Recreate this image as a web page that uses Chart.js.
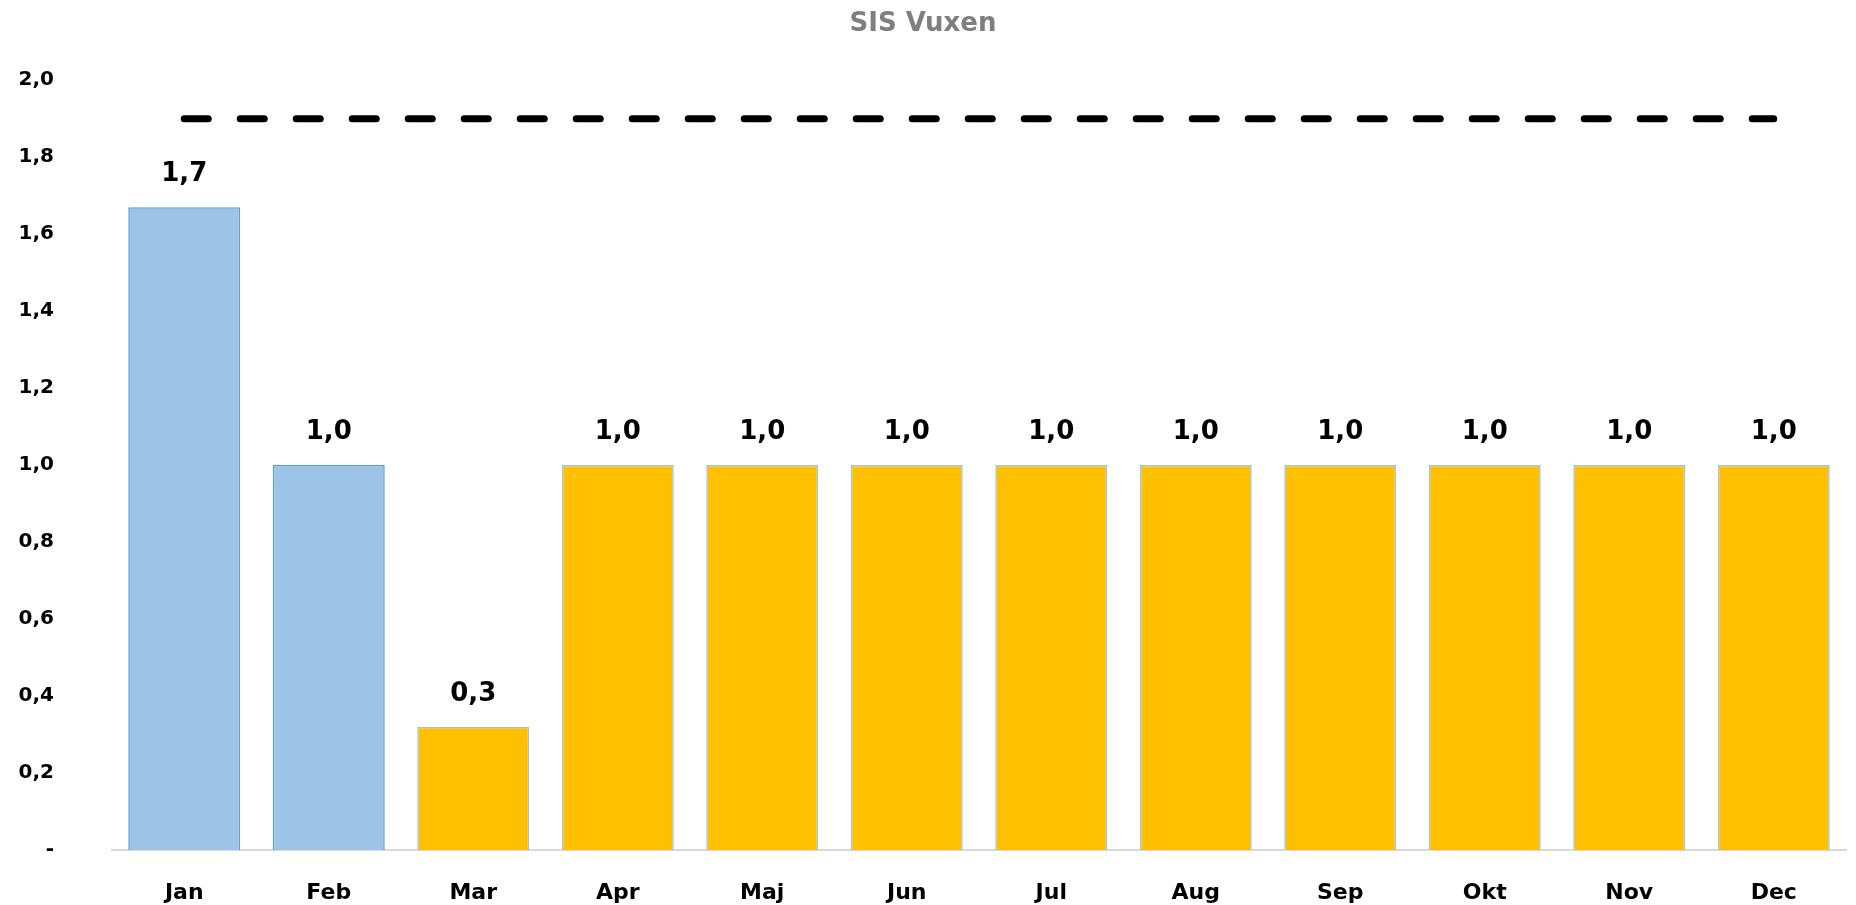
<!DOCTYPE html>
<html>
<head>
<meta charset="utf-8">
<script src="https://cdn.jsdelivr.net/npm/chart.js@4"></script>
<style>
  html, body { margin: 0; padding: 0; background: #fff; overflow: hidden; }
  canvas { display: block; }
</style>
</head>
<body>
<canvas id="myChart" width="1856" height="905"></canvas>
<script>
// data
const months = ["Jan", "Feb", "Mar", "Apr", "Maj", "Jun", "Jul", "Aug", "Sep", "Okt", "Nov", "Dec"];
const values = [1.67, 1.0, 0.32, 1.0, 1.0, 1.0, 1.0, 1.0, 1.0, 1.0, 1.0, 1.0];
const target = [1.9, 1.9, 1.9, 1.9, 1.9, 1.9, 1.9, 1.9, 1.9, 1.9, 1.9, 1.9];
const actualCount = 2; // first months are blue (utfall), rest yellow

const FONT = "'DejaVu Sans', sans-serif";
const fmt = (v) => (v === 0 ? "-" : v.toFixed(1).replace(".", ","));

// simple inline data label plugin
const barLabels = {
  id: "barLabels",
  afterDatasetsDraw(chart) {
    const ctx = chart.ctx;
    const meta = chart.getDatasetMeta(1);
    ctx.save();
    ctx.font = "bold 26px " + FONT;
    ctx.fillStyle = "#000";
    ctx.textAlign = "center";
    ctx.textBaseline = "middle";
    meta.data.forEach((bar, i) => {
      ctx.fillText(fmt(values[i]), bar.x, bar.y - 33);
    });
    ctx.restore();
  },
};

const ctx = document.getElementById("myChart").getContext("2d");

const aChart = new Chart(ctx, {
  type: "bar",
  data: {
    labels: months,
    datasets: [
      {
        type: "line",
        label: "Mål",
        data: target,
        borderColor: "#000",
        borderWidth: 7,
        borderDash: [24, 32],
        borderCapStyle: "round",
        pointRadius: 0,
        fill: false,
        order: 0,
      },
      {
        label: "SIS Vuxen",
        data: values,
        backgroundColor: values.map((v, i) => (i < actualCount ? "#9DC3E6" : "#FFC000")),
        borderColor: values.map((v, i) => (i < actualCount ? "#5B9BD5" : "#9DC3E6")),
        borderWidth: 1.5,
        borderSkipped: "bottom",
        barPercentage: 0.775,
        categoryPercentage: 1,
        order: 1,
      },
    ],
  },
  options: {
    responsive: false,
    animation: false,
    layout: { padding: { left: 0, right: 10, top: 0, bottom: 0 } },
    plugins: {
      legend: { display: false },
      tooltip: { enabled: false },
      title: {
        display: true,
        text: "SIS Vuxen",
        color: "#7F7F7F",
        font: { family: FONT, size: 26, weight: "bold" },
        padding: { top: 9, bottom: 40 },
      },
    },
    scales: {
      x: {
        grid: { display: false, drawTicks: false },
        border: { display: true, color: "#D9D9D9", width: 2 },
        ticks: {
          color: "#000",
          font: { family: FONT, size: 22, weight: "bold" },
          padding: 30,
        },
        afterFit: (s) => { s.height = 55; },
      },
      y: {
        min: 0,
        max: 2,
        grid: { display: false, drawTicks: false },
        border: { display: false },
        ticks: {
          stepSize: 0.2,
          color: "#000",
          font: { family: FONT, size: 20, weight: "bold" },
          padding: 58,
          callback: (v) => fmt(v),
        },
        afterFit: (s) => {
          s.width = 112;
          // the big tick padding should not push the plot area in from top/bottom
          s.paddingTop = 0;
          s.paddingBottom = 0;
        },
      },
    },
  },
  plugins: [barLabels],
});
</script>
</body>
</html>
